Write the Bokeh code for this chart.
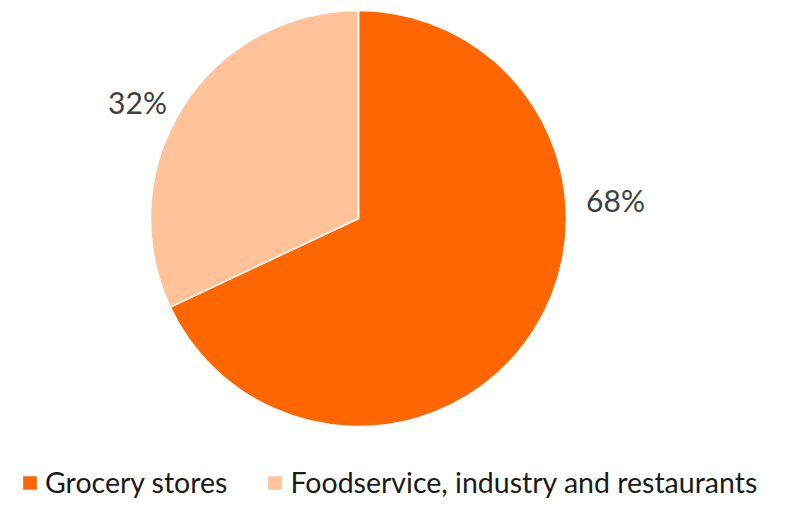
import numpy as np
from bokeh.plotting import figure
from bokeh.models import Range1d, Legend, LegendItem, ColumnDataSource
from bokeh.core.properties import value
from bokeh.embed import file_html
from bokeh.resources import INLINE

categories = ["Grocery stores", "Foodservice, industry and restaurants"]
shares = [68, 32]
colors = ["#FF6600", "#FFC299"]
label_texts = ["68%", "32%"]

W, H = 769, 498
p = figure(width=W, height=H, output_backend="svg", toolbar_location=None,
           x_range=Range1d(0, W), y_range=Range1d(0, H), min_border=0,
           background_fill_color="white", border_fill_color="white")
p.axis.visible = False
p.grid.visible = False
p.outline_line_color = None

cx, cy, r = 358, 280, 208
frac = np.array(shares, dtype=float) / sum(shares)
cum = np.concatenate([[0], np.cumsum(frac)])
# clockwise from 12 o'clock
ends = np.pi / 2 - cum[:-1] * 2 * np.pi
starts = np.pi / 2 - cum[1:] * 2 * np.pi

wedges = []
for i, cat in enumerate(categories):
    w = p.wedge(x=cx, y=cy, radius=r, start_angle=starts[i], end_angle=ends[i],
                fill_color=colors[i], line_color="white", line_width=1.5)
    wedges.append(w)

label_pos = [(615, 299), (137, 397)]
src = ColumnDataSource(dict(x=[q[0] for q in label_pos], y=[q[1] for q in label_pos], t=label_texts))
p.text(x="x", y="y", text="t", source=src, text_align="center", text_baseline="middle",
       text_font=value("Lato"), text_font_size="30px", text_color="#404040")

legend = Legend(items=[LegendItem(label=c, renderers=[wedges[i]]) for i, c in enumerate(categories)],
                orientation="horizontal", location=(20, -1), glyph_width=19, glyph_height=19,
                label_standoff=6, spacing=38, padding=0, margin=0,
                label_text_font="Lato", label_text_font_size="28.5px", label_text_color="#1a1a1a",
                border_line_color=None, background_fill_alpha=0)
p.add_layout(legend, "center")

open("out.html", "w").write(file_html(p, INLINE))
